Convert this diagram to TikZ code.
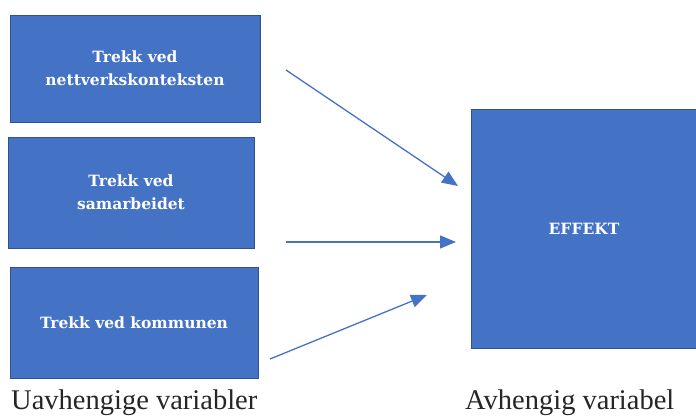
\documentclass[tikz,border=0pt]{standalone}
\usepackage{fontspec}
\setmainfont{Liberation Serif}
\newfontfamily\boxfont{DejaVu Serif}
\usepackage{tikz}
\usetikzlibrary{arrows.meta, positioning, calc}
\definecolor{boxBlue}{HTML}{4472C4}
\definecolor{boxEdge}{HTML}{2F528F}

\begin{document}
\begin{tikzpicture}[x=1pt, y=-1pt,
  varbox/.style={fill=boxBlue, draw=boxEdge, line width=0.8pt, inner sep=0pt, align=center, font=\boxfont\bfseries\fontsize{15.5}{23}\selectfont, text=white},
  flow/.style={draw=boxBlue, line width=1.3pt, -{Triangle[length=16pt, width=13pt]}},
  caption/.style={anchor=base west, font=\fontsize{28.5}{30}\selectfont, text=black!85, inner sep=0pt},
]
  \useasboundingbox (0,0) rectangle (696,415);

  % Left column
  \node[varbox, minimum width=250pt, minimum height=107pt] (nett) at (135,68.5) {Trekk ved\\nettverkskonteksten};
  \node[varbox, minimum width=246pt, minimum height=111pt] (samarb) at (131,192.5) {Trekk ved\\samarbeidet};
  \node[varbox, minimum width=248pt, minimum height=111pt] (kommune) at (134,322.5) {Trekk ved kommunen};

  % Right column
  \node[varbox, minimum width=226pt, minimum height=239pt] (effekt) at (584,228.5) {EFFEKT};

  % Arrow ends
  \coordinate (n1) at (286,70);
  \coordinate (n2) at (458,186);
  \coordinate (s1) at (286,242);
  \coordinate (s2) at (456,242);
  \coordinate (k1) at (270,359);
  \coordinate (k2) at (427,295);

  \draw[flow] (n1) -- (n2);
  \draw[flow] (s1) -- (s2);
  \draw[flow] (k1) -- (k2);

  % Captions
  \node[caption] (uavh) at (11,409) {Uavhengige variabler};
  \node[caption] (avh) at (465,409) {Avhengig variabel};
\end{tikzpicture}
\end{document}
